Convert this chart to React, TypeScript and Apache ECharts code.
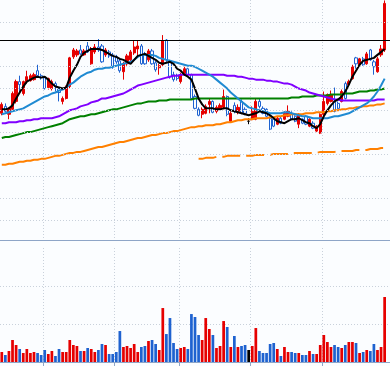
import React, { useEffect, useRef } from 'react';
import * as echarts from 'echarts';

// [open, close, low, high]
const candles: number[][] = [
  [585,625.5,576,634.5],[616.5,594,589.5,630],[580.5,607.5,558,612],[603,675,598.5,684],[639,729,630,738],
  [729,715.5,675,756],[675,729,666,733.5],[729,751.5,720,778.5],[733.5,756,729,765],[738,760.5,733.5,769.5],
  [778.5,756,751.5,805.5],[756,747,738,765],[747,697.5,693,751.5],[702,742.5,693,747],[697.5,729,688.5,738],
  [720,706.5,684,729],[697.5,679.5,639,702],[639,652.5,625.5,661.5],[652.5,706.5,648,711],[706.5,837,697.5,841.5],
  [841.5,873,832.5,882],[850.5,868.5,841.5,877.5],[873,855,850.5,895.5],[850.5,868.5,846,877.5],[891,864,859.5,909],
  [810,877.5,805.5,886.5],[864,886.5,855,900],[886.5,873,864,922.5],[891,819,814.5,900],[850.5,873,841.5,882],
  [864,846,837,873],[850.5,796.5,787.5,859.5],[841.5,819,810,850.5],[823.5,778.5,769.5,832.5],[774,810,738,819],
  [810,846,801,855],[828,864,819,873],[859.5,886.5,850.5,913.5],[877.5,891,846,918],[891,810,805.5,900],
  [855,810,805.5,864],[828,868.5,819,877.5],[868.5,810,805.5,877.5],[814.5,783,774,823.5],[792,801,760.5,810],
  [805.5,913.5,796.5,940.5],[918,828,819,922.5],[819,751.5,742.5,828],[760.5,738,729,774],[756,742.5,733.5,765],
  [729,760.5,720,769.5],[765,787.5,756,796.5],[787.5,760.5,751.5,792],[760.5,652.5,648,765],[661.5,607.5,603,670.5],
  [603,576,571.5,612],[580.5,603,562.5,612],[585,616.5,580.5,625.5],[625.5,639,585,652.5],[639,589.5,585,643.5],
  [594,612,585,621],[603,621,598.5,630],[612,661.5,603,693],[661.5,580.5,571.5,666],[549,585,544.5,594],
  [621,594,585,634.5],[594,612,580.5,625.5],[639,585,580.5,648],[603,585,576,612],[549,549,535.5,562.5],
  [558,594,553.5,616.5],[558,639,553.5,652.5],[639,616.5,607.5,652.5],[607.5,585,580.5,616.5],[603,571.5,567,607.5],
  [562.5,513,508.5,571.5],[558,526.5,522,567],[535.5,562.5,531,571.5],[562.5,540,535.5,571.5],[558,585,553.5,594],
  [571.5,594,567,621],[585,558,553.5,594],[571.5,549,544.5,576],[535.5,580.5,517.5,585],[558,540,535.5,562.5],
  [571.5,535.5,531,576],[526.5,558,522,562.5],[540,517.5,513,549],[504,526.5,499.5,531],[495,580.5,490.5,585],
  [580.5,639,571.5,684],[630,670.5,621,675],[639,670.5,634.5,688.5],[639,594,589.5,702],[630,607.5,603,639],
  [639,684,634.5,693],[720,652.5,648,729],[715.5,729,711,738],[742.5,796.5,738,805.5],[837,810,787.5,841.5],
  [805.5,832.5,801,837],[832.5,805.5,801,841.5],[810,855,805.5,864],[873,828,823.5,877.5],[819,796.5,760.5,828],
  [774,832.5,769.5,841.5],[850.5,877.5,841.5,895.5],[873,1084.5,864,1098],
];

const volumes = [
  263,184,289,579,447,342,237,342,237,263,
  237,184,316,210,289,158,342,263,263,579,
  447,421,289,289,368,342,263,316,473,447,
  210,210,263,815,395,421,368,473,263,395,
  421,552,579,473,316,1420,736,1157,500,342,
  368,395,342,1262,1184,710,579,1157,868,710,
  368,421,1078,921,395,684,395,421,447,316,
  421,894,289,237,237,473,500,342,158,395,
  263,263,237,237,184,184,289,210,210,447,
  710,526,395,447,395,368,447,526,526,500,
  237,263,316,289,473,316,395,1710,
];

const ma5 = [
  603,603,607.5,621,652.5,679.5,706.5,729,738,747,
  751.5,747,751.5,738,720,706.5,702,697.5,702,747,
  778.5,805.5,841.5,859.5,868.5,877.5,877.5,877.5,873,864,
  855,846,841.5,832.5,828,819,810,828,846,850.5,
  855,846,837,828,814.5,810,814.5,819,810,787.5,
  778.5,760.5,751.5,738,697.5,652.5,625.5,607.5,607.5,607.5,
  603,603,607.5,607.5,598.5,594,589.5,585,580.5,576,
  580.5,585,594,589.5,585,576,562.5,549,544.5,540,
  549,558,558,562.5,553.5,544.5,540,526.5,517.5,535.5,
  571.5,598.5,621,639,648,661.5,684,715.5,751.5,778.5,
  805.5,823.5,828,832.5,837,850.5,864,877.5,
];

const ma20 = [
  580.5,585,589.5,594,598.5,603,607.5,616.5,625.5,634.5,
  643.5,652.5,661.5,666,675,679.5,688.5,693,702,715.5,
  724.5,738,751.5,760.5,769.5,774,783,787.5,787.5,792,
  792,796.5,801,805.5,810,814.5,819,828,841.5,850.5,
  850.5,850.5,850.5,846,837,832.5,828,823.5,819,814.5,
  810,805.5,801,801,796.5,787.5,778.5,769.5,760.5,751.5,
  738,724.5,711,697.5,679.5,666,652.5,639,625.5,612,
  607.5,603,598.5,594,589.5,585,585,585,585,589.5,
  589.5,585,580.5,576,571.5,571.5,567,562.5,562.5,562.5,
  562.5,562.5,567,571.5,571.5,576,580.5,585,594,603,
  612,621,630,643.5,661.5,684,711,742.5,
];

const ma60 = [
  540,540,544.5,544.5,544.5,549,549,553.5,553.5,558,
  558,562.5,562.5,562.5,562.5,567,571.5,580.5,589.5,598.5,
  603,607.5,616.5,621,625.5,634.5,639,643.5,652.5,652.5,
  657,661.5,666,670.5,675,684,693,702,711,715.5,
  720,724.5,729,733.5,738,742.5,747,751.5,756,756,
  760.5,760.5,760.5,760.5,760.5,760.5,760.5,760.5,760.5,760.5,
  760.5,760.5,760.5,756,756,756,751.5,751.5,747,742.5,
  742.5,738,738,738,733.5,733.5,729,729,724.5,720,
  720,715.5,706.5,697.5,693,688.5,679.5,675,670.5,666,
  661.5,657,652.5,648,648,643.5,643.5,643.5,643.5,643.5,
  643.5,643.5,643.5,643.5,643.5,648,648,648,
];

const ma120 = [
  472.5,477,477,481.5,486,490.5,495,499.5,499.5,504,
  508.5,513,517.5,522,526.5,531,535.5,540,549,558,
  562.5,567,571.5,571.5,576,580.5,580.5,585,589.5,594,
  598.5,603,603,607.5,612,616.5,621,625.5,630,630,
  634.5,639,639,639,643.5,643.5,643.5,648,648,648,
  648,648,648,648,652.5,652.5,652.5,652.5,652.5,652.5,
  652.5,652.5,652.5,652.5,652.5,652.5,652.5,652.5,652.5,652.5,
  652.5,652.5,652.5,652.5,652.5,652.5,652.5,652.5,652.5,652.5,
  652.5,657,657,657,661.5,661.5,661.5,661.5,666,666,
  666,666,670.5,670.5,670.5,670.5,675,675,675,679.5,
  684,684,684,688.5,688.5,693,693,697.5,
];

const ma240 = [
  351,351,355.5,355.5,360,364.5,364.5,369,369,373.5,
  373.5,378,378,382.5,387,391.5,391.5,396,400.5,405,
  405,409.5,409.5,414,418.5,423,427.5,432,432,436.5,
  441,445.5,450,454.5,454.5,459,463.5,468,472.5,472.5,
  477,481.5,486,486,490.5,495,495,499.5,504,504,
  508.5,513,517.5,522,522,526.5,526.5,531,531,531,
  535.5,535.5,540,544.5,544.5,549,553.5,553.5,558,558,
  558,562.5,562.5,562.5,562.5,567,567,571.5,571.5,576,
  576,580.5,580.5,580.5,580.5,585,585,585,589.5,589.5,
  589.5,594,594,598.5,598.5,603,603,607.5,607.5,612,
  612,616.5,616.5,621,621,625.5,625.5,630,
];

const projStart = 55;
const projValues = [
  378,378,382.5,382.5,382.5,
  387,387,387,391.5,391.5,391.5,391.5,391.5,391.5,391.5,
  391.5,396,396,396,396,396,400.5,400.5,400.5,400.5,
  400.5,405,405,405,405,405,405,405,405,409.5,
  409.5,409.5,409.5,409.5,414,414,414,414,414,418.5,
  418.5,418.5,418.5,423,423,423,427.5,427.5,
];

const resistance = 917;
const priceGridLevels = [100, 200, 300, 400, 500, 600, 700, 800, 1000];
const monthStarts = [12, 32, 50, 70, 90];
const categoryCount = 109;
const categories = Array.from({ length: categoryCount }, (_, i) => `D${i + 1}`);

const RED = '#e60000';
const BLUE = '#1e62d0';
const BG = '#fbfdff';
const AXIS = '#8ea5c7';

export default function App() {
  const ref = useRef<HTMLDivElement>(null);
  useEffect(() => {
    const chart = echarts.init(ref.current!, undefined, { renderer: 'svg' });
    const dotted = { color: '#c9d1db', width: 1, type: [1, 2] };
    const isMonth = (i: number) => monthStarts.includes(i);
    const proj = [...Array(projStart).fill(null), ...projValues];
    const volData = volumes.map((v, i) => {
      const [o, c] = candles[i];
      const col = c > o ? RED : c < o ? BLUE : '#000000';
      return { value: v, itemStyle: { color: col } };
    });
    const line = (data: any[], color: string, extra: any = {}) => ({
      type: 'line',
      xAxisIndex: 0,
      yAxisIndex: 0,
      data,
      symbol: 'none',
      silent: true,
      lineStyle: { color, width: 2, ...extra },
      z: 3,
    });
    chart.setOption({
      animation: false,
      backgroundColor: BG,
      grid: [
        { left: -1, width: 391, top: -2.44, height: 244.44 },
        { left: -1, width: 391, top: 248, height: 114 },
      ],
      xAxis: [
        {
          type: 'category', gridIndex: 0, data: categories, boundaryGap: true,
          axisLine: { show: false }, axisTick: { show: false }, axisLabel: { show: false },
          splitLine: { show: true, interval: (i: number) => isMonth(i), lineStyle: dotted },
        },
        {
          type: 'category', gridIndex: 1, data: categories, boundaryGap: true,
          axisLine: { show: true, lineStyle: { color: AXIS, width: 1 } },
          axisTick: { show: true, interval: (i: number) => isMonth(i), length: 4, lineStyle: { color: AXIS } },
          axisLabel: { show: false },
          splitLine: { show: true, interval: (i: number) => isMonth(i), lineStyle: dotted },
        },
      ],
      yAxis: [
        {
          type: 'value', gridIndex: 0, min: 0, max: 1100, interval: 100,
          axisLine: { show: false }, axisTick: { show: false }, axisLabel: { show: false },
          splitLine: { show: false },
        },
        {
          type: 'value', gridIndex: 1, min: 0, max: 3000, interval: 1000,
          axisLine: { show: false }, axisTick: { show: false }, axisLabel: { show: false },
          splitLine: { show: true, lineStyle: dotted, showMinLine: false, showMaxLine: false },
        },
      ],
      graphic: [
        {
          type: 'line', silent: true, z: 10,
          shape: { x1: 0, y1: 240.5, x2: 390, y2: 240.5 },
          style: { stroke: AXIS, lineWidth: 1 },
        },
      ],
      series: [
        {
          type: 'line', xAxisIndex: 0, yAxisIndex: 0, data: [], z: 1, silent: true,
          markLine: {
            silent: true, symbol: 'none', label: { show: false }, animation: false,
            lineStyle: dotted,
            data: priceGridLevels.map((v) => ({ yAxis: v })),
          },
        },
        {
          type: 'candlestick', xAxisIndex: 0, yAxisIndex: 0, data: candles,
          barWidth: '76%', silent: true, z: 2,
          itemStyle: {
            color: RED, color0: BG, borderColor: RED, borderColor0: BLUE,
            borderColorDoji: '#000000', borderWidth: 1,
          },
          markLine: {
            silent: true, symbol: 'none', label: { show: false },
            lineStyle: { color: '#000000', width: 1, type: 'solid' },
            data: [{ yAxis: resistance }],
          },
        },
        line(ma240, '#ff8000'),
        line(proj, '#ff8000', { type: [18, 6] }),
        line(ma120, '#008000'),
        line(ma60, '#8000ff'),
        line(ma20, '#1f8ad2'),
        line(ma5, '#000000'),
        {
          type: 'bar', xAxisIndex: 1, yAxisIndex: 1, data: volData,
          barWidth: '76%', silent: true,
        },
      ],
    });
    return () => chart.dispose();
  }, []);
  return <div ref={ref} style={{ position: 'fixed', left: 0, top: 0, width: 390, height: 366 }} />;
}
